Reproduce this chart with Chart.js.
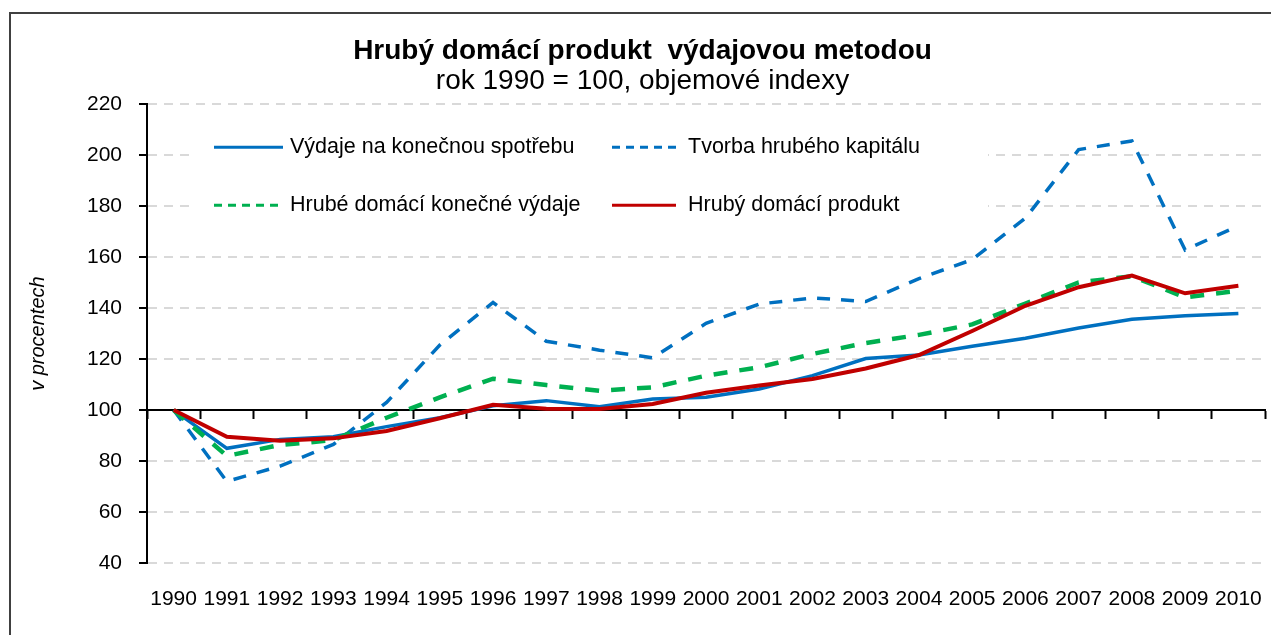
<!DOCTYPE html>
<html>
<head>
<meta charset="utf-8">
<script src="https://cdn.jsdelivr.net/npm/chart.js@4"></script>
<style>
body { margin: 0; background: #fff; overflow: hidden; }
#wrap { width: 1271px; height: 635px; position: relative; }
</style>
</head>
<body>
<div id="wrap"><canvas id="chart"></canvas></div>
<script>
var years = ['1990', '1991', '1992', '1993', '1994', '1995', '1996', '1997', '1998', '1999', '2000',
             '2001', '2002', '2003', '2004', '2005', '2006', '2007', '2008', '2009', '2010'];

// rok 1990 = 100
var spotreba = [100, 85, 88.5, 89.5, 93.5, 97, 101.7, 103.7, 101.3, 104.3, 105,
                108.3, 113.5, 120.2, 121.6, 125, 128.2, 132.2, 135.6, 137, 137.9];
var kapital = [100, 72, 78, 86.5, 103, 125.5, 142.2, 127, 123.5, 120.5, 134,
               141.6, 144, 142.6, 151.6, 159, 175.3, 202.2, 205.6, 162.8, 172.3];
var konecneVydaje = [100, 82, 86.3, 88.2, 97, 105, 112.3, 109.8, 107.6, 108.9, 113.5,
                     116.8, 122, 126.3, 129.5, 133.6, 141.8, 150.1, 152.5, 144.2, 146.8];
var hdp = [100, 89.5, 88, 88.9, 91.8, 96.8, 102.1, 100.5, 100.4, 102.4, 106.8,
           109.6, 112.2, 116.3, 121.6, 131, 140.9, 148.2, 152.8, 145.8, 148.8];

var yMin = 40, yMax = 220, yStep = 20;
var baseValue = 100;

Chart.defaults.font.family = '"Liberation Sans", Arial, sans-serif';
Chart.defaults.color = '#000';

var frame = {
    id: 'frame',
    beforeDraw: function(chart){
        var c = chart.ctx;
        c.save();
        c.strokeStyle = '#404040';
        c.lineWidth = 2;
        c.strokeRect(10, 13, 1400, 800);
        c.restore();
    }
};

// legend sits inside the plot, 2 x 2, on a white patch over the grid
var boxLegend = {
    id: 'boxLegend',
    beforeDatasetsDraw: function(chart){
        var a = chart.chartArea;
        var c = chart.ctx;
        c.save();
        c.fillStyle = '#fff';
        c.fillRect(a.left + 49, a.top + 12, 792, 124);
        c.restore();
    },
    afterDraw: function(chart){
        var a = chart.chartArea;
        var c = chart.ctx;
        var cols = [{x1: 214, x2: 283, tx: 290}, {x1: 612, x2: 676, tx: 688}];
        var rows = [a.top + 43, a.top + 101];
        chart.data.datasets.forEach(function(ds, i){
            var col = cols[i % 2];
            var y = rows[Math.floor(i / 2)];
            c.save();
            c.strokeStyle = ds.borderColor;
            c.lineWidth = 3;
            c.setLineDash(ds.borderDash ? [8, 6] : []);
            c.beginPath();
            c.moveTo(col.x1, y);
            c.lineTo(col.x2, y);
            c.stroke();
            c.setLineDash([]);
            c.fillStyle = '#000';
            c.font = '21.5px "Liberation Sans", Arial, sans-serif';
            c.textBaseline = 'middle';
            c.fillText(ds.label, col.tx, y);
            c.restore();
        });
    }
};

var ctx = document.getElementById('chart').getContext('2d');
var chart = new Chart(ctx, {
    type: 'line',
    data: {
        labels: years,
        datasets: [
            {
                label: 'Výdaje na konečnou spotřebu',
                data: spotreba,
                borderColor: '#0070c0',
                borderWidth: 3.5,
                pointRadius: 0,
                tension: 0,
                order: 3
            },
            {
                label: 'Tvorba hrubého kapitálu',
                data: kapital,
                borderColor: '#0070c0',
                borderWidth: 3.5,
                borderDash: [13, 11],
                pointRadius: 0,
                tension: 0,
                order: 4
            },
            {
                label: 'Hrubé domácí konečné výdaje',
                data: konecneVydaje,
                borderColor: '#00b050',
                borderWidth: 4.5,
                borderDash: [14, 12],
                pointRadius: 0,
                tension: 0,
                order: 2
            },
            {
                label: 'Hrubý domácí produkt',
                data: hdp,
                borderColor: '#c00000',
                borderWidth: 4,
                pointRadius: 0,
                tension: 0,
                order: 1
            }]
    },
    options: {
        responsive: true,
        maintainAspectRatio: false,
        animation: false,
        layout: {
            padding: {left: 20, right: 6, top: 0, bottom: 0}
        },
        plugins: {
            legend: {display: false},
            tooltip: {enabled: false},
            title: {
                display: true,
                text: 'Hrubý domácí produkt  výdajovou metodou',
                font: {size: 28, weight: 'bold'},
                color: '#000',
                padding: {top: 34, bottom: 0}
            },
            subtitle: {
                display: true,
                text: 'rok 1990 = 100, objemové indexy',
                font: {size: 28},
                color: '#000',
                padding: {top: -3, bottom: 6}
            }
        },
        scales: {
            x: {
                type: 'category',
                offset: true,
                grid: {
                    display: true,
                    drawOnChartArea: false,
                    color: 'rgba(0,0,0,0)',
                    tickLength: 24
                },
                border: {display: false},
                ticks: {
                    font: {size: 21},
                    color: '#000',
                    padding: 0,
                    autoSkip: false,
                    maxRotation: 0
                },
                afterFit: function(scale){ scale.height = 72; }
            },
            x2: {
                type: 'category',
                axis: 'x',
                position: {y: baseValue},
                offset: true,
                grid: {
                    offset: true,
                    drawOnChartArea: false,
                    drawTicks: true,
                    tickLength: 8,
                    tickColor: '#000',
                    tickWidth: 2
                },
                border: {color: '#000', width: 2},
                ticks: {display: false}
            },
            y: {
                min: yMin,
                max: yMax,
                ticks: {
                    stepSize: yStep,
                    font: {size: 21},
                    color: '#000',
                    padding: 17
                },
                grid: {
                    color: '#d9d9d9',
                    lineWidth: 2,
                    tickColor: '#000',
                    tickLength: 8,
                    tickWidth: 2
                },
                border: {color: '#000', width: 2, dash: [9, 7]},
                title: {
                    display: true,
                    text: 'v procentech',
                    font: {size: 20, style: 'italic'},
                    color: '#000',
                    padding: {top: 6, bottom: 0}
                },
                afterFit: function(scale){ scale.width = 127; }
            }
        }
    },
    plugins: [frame, boxLegend]
});
</script>
</body>
</html>
